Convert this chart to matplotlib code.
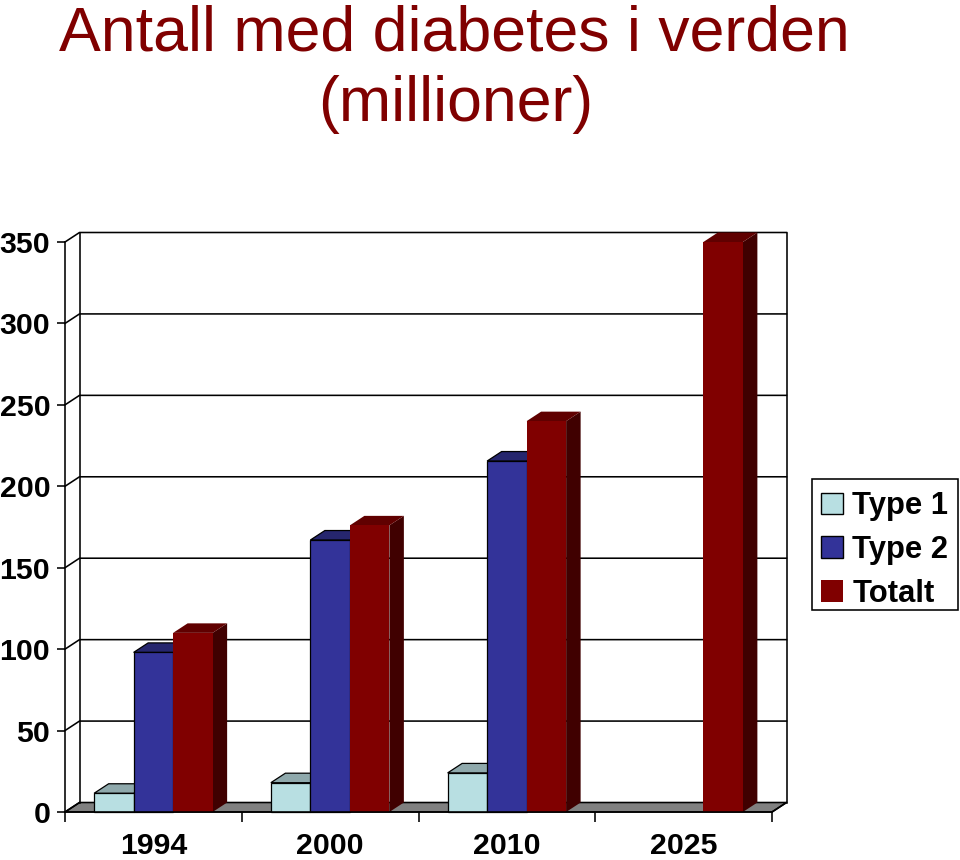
import numpy as np
import matplotlib
matplotlib.use("Agg")
import matplotlib.pyplot as plt
from matplotlib.patches import Polygon, Patch, Rectangle

plt.rcParams['font.family'] = ['Liberation Sans', 'DejaVu Sans']

years = ['1994', '2000', '2010', '2025']
series_names = ['Type 1', 'Type 2', 'Totalt']
type1 = [11.5, 18, 24, np.nan]
type2 = [98, 167, 215.5, np.nan]
totalt = [110, 176, 240, 350]
yticks = [0, 50, 100, 150, 200, 250, 300, 350]

front = ['#b8dfe2', '#333399', '#800000']
top = ['#8fa9ac', '#26266e', '#600000']
side = ['#6f8486', '#1c1c55', '#400000']
edges = ['black', 'black', 'none']

W, H = 960, 860
fig = plt.figure(figsize=(W / 100, H / 100), dpi=100)
# axes = front plane of the 3d box, in pixels 65..772 / 242..812
ax = fig.add_axes([65 / W, 1 - 812 / H, 707 / W, 570 / H])
ax.set_xlim(0, 4)
ax.set_ylim(0, 350)

# depth of the box in data units (about 14px right, 9.5px up)
dx = 14.5 / 707 * 4
dy = 9.5 / 570 * 350
lw = 1.15

# floor
ax.add_patch(Polygon([(0, 0), (dx, dy), (4 + dx, dy), (4, 0)], fc='#808080', ec='black',
                     lw=lw, clip_on=False, zorder=1))

# back wall and gridlines
for t in yticks[1:]:
    ax.plot([0, dx, 4 + dx], [t, t + dy, t + dy], color='black', lw=lw, clip_on=False, zorder=1)
ax.plot([dx, dx], [dy, 350 + dy], color='black', lw=lw, clip_on=False, zorder=1)
ax.plot([4 + dx, 4 + dx], [dy, 350 + dy], color='black', lw=lw, clip_on=False, zorder=1)
ax.plot([0, dx], [0, dy], color='black', lw=lw, clip_on=False, zorder=1)
ax.plot([4, 4 + dx], [0, dy], color='black', lw=lw, clip_on=False, zorder=1)


def bar3d(x0, w, v, i, z):
    # side and top first, then the front face
    ax.add_patch(Polygon([(x0 + w, 0), (x0 + w + dx, dy), (x0 + w + dx, v + dy), (x0 + w, v)],
                         fc=side[i], ec=edges[i], lw=0.9, clip_on=False, zorder=z))
    ax.add_patch(Polygon([(x0, v), (x0 + dx, v + dy), (x0 + w + dx, v + dy), (x0 + w, v)],
                         fc=top[i], ec=edges[i], lw=0.9, clip_on=False, zorder=z))
    ax.add_patch(Polygon([(x0, 0), (x0, v), (x0 + w, v), (x0 + w, 0)],
                         fc=front[i], ec=edges[i], lw=0.9, clip_on=False, zorder=z))


bw = 0.2235
z = 2
for g in range(len(years)):
    for i, vals in enumerate([type1, type2, totalt]):
        if np.isnan(vals[g]):
            continue
        bar3d(g + 0.5 + (i - 1.5) * bw, bw, vals[g], i, z)
        z += 1

# axes and ticks
for s in ['top', 'right']:
    ax.spines[s].set_visible(False)
for s in ['left', 'bottom']:
    ax.spines[s].set_linewidth(lw)
    ax.spines[s].set_zorder(30)
ax.patch.set_alpha(0)
ax.set_yticks(yticks)
ax.set_xticks([0, 1, 2, 3, 4])
ax.set_xticklabels([])
ax.set_xticks([0.5, 1.5, 2.5, 3.5], minor=True)
ax.set_xticklabels(years, minor=True)
ax.tick_params(axis='y', length=5.5, width=lw, labelsize=21.8, pad=5.2)
ax.tick_params(axis='x', which='major', length=7, width=lw)
ax.tick_params(axis='x', which='minor', length=0, labelsize=21.8, pad=14.5)
for lab in ax.get_yticklabels() + ax.get_xticklabels(minor=True):
    lab.set_fontweight('bold')

# title
fig.text(454 / W, 1 - 34 / H, 'Antall med diabetes i verden', color='#800000', fontsize=45.1,
         ha='center', va='center')
fig.text(456 / W, 1 - 105 / H, '(millioner)', color='#800000', fontsize=45.1, ha='center', va='center')

# legend box drawn apart so its height can be set
fig.add_artist(Rectangle((812 / W, 1 - 610 / H), 146 / W, 131 / H, fc='white', ec='black', lw=lw,
                         transform=fig.transFigure))
handles = [Patch(fc=front[0], ec='black', lw=1), Patch(fc=front[1], ec='black', lw=1),
           Patch(fc=front[2], ec='none')]
leg = fig.legend(handles, series_names, loc='upper left', bbox_to_anchor=(812 / W, 1 - 482 / H),
                 prop={'weight': 'bold', 'size': 22.3}, frameon=False, handlelength=0.7,
                 handleheight=0.7, handletextpad=0.3, labelspacing=0.44, borderpad=0.3,
                 borderaxespad=0)

fig.savefig('out.png', dpi=100)
